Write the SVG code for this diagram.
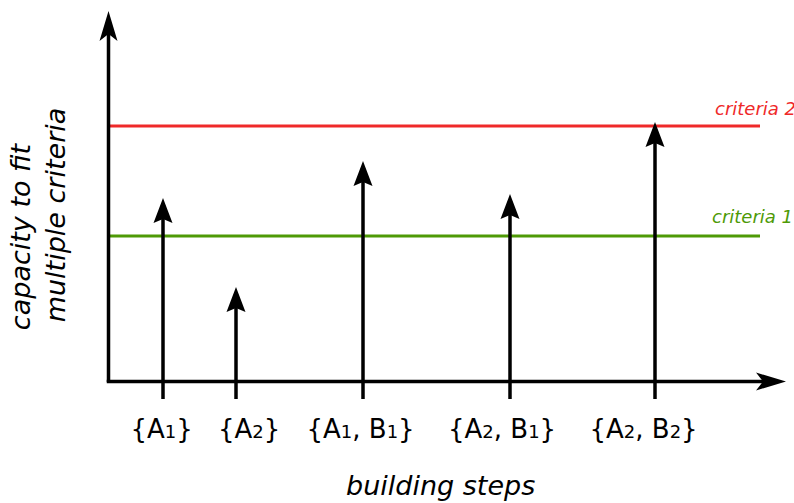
<svg xmlns="http://www.w3.org/2000/svg" width="794" height="503" viewBox="0 0 794 503">
<style>
.axis{stroke:#000;stroke-width:3.5;fill:none;marker-end:url(#ah2)}
.bar{stroke:#000;stroke-width:3.5;fill:none;marker-end:url(#ah)}
.c1{stroke:#4e9a06;stroke-width:3}
.c2{stroke:#ef2929;stroke-width:3}
text{font-family:"DejaVu Sans","Liberation Sans",sans-serif}
.lab{font-size:26px;fill:#000}
.sub{font-size:18px}
.it{font-style:italic}
.ttl{font-size:27px;font-style:italic;fill:#000}
</style>
<defs>
<marker id="ah" markerUnits="userSpaceOnUse" orient="auto" overflow="visible" refX="0" refY="0" markerWidth="30" markerHeight="20">
<path d="M21,0 L-4,-9.5 L0,0 L-4,9.5 Z" fill="#000"/>
</marker>
<marker id="ah2" markerUnits="userSpaceOnUse" orient="auto" overflow="visible" refX="0" refY="0" markerWidth="30" markerHeight="20">
<path d="M23,0 L-7,-9 L0,0 L-7,9 Z" fill="#000"/>
</marker>
</defs>
<g id="criteria">
<line class="c2" x1="108" y1="126" x2="760" y2="126"/>
<line class="c1" x1="108" y1="236" x2="760" y2="236"/>
<text x="715" y="115" class="it" style="font-size:18px;fill:#ef2929">criteria 2</text>
<text x="712" y="223" class="it" style="font-size:18px;fill:#4e9a06">criteria 1</text>
</g>
<g id="connectors">
<path class="axis" d="M108.5,382 L108.5,34"/>
<path class="axis" d="M106.75,381.5 L763,381.5"/>
<line class="bar" x1="163" y1="399" x2="163" y2="219"/>
<line class="bar" x1="236" y1="399" x2="236" y2="308"/>
<line class="bar" x1="363" y1="399" x2="363" y2="182"/>
<line class="bar" x1="510" y1="399" x2="510" y2="215"/>
<line class="bar" x1="655" y1="399" x2="655" y2="143"/>
</g>
<g id="step-a1"><text class="lab" x="130.5" y="437.5">{A<tspan class="sub">1</tspan>}</text></g>
<g id="step-a2"><text class="lab" x="218" y="437.5">{A<tspan class="sub">2</tspan>}</text></g>
<g id="step-a1b1"><text class="lab" x="306.5" y="437.5">{A<tspan class="sub">1</tspan>, B<tspan class="sub">1</tspan>}</text></g>
<g id="step-a2b1"><text class="lab" x="448" y="437.5">{A<tspan class="sub">2</tspan>, B<tspan class="sub">1</tspan>}</text></g>
<g id="step-a2b2"><text class="lab" x="589.5" y="437.5">{A<tspan class="sub">2</tspan>, B<tspan class="sub">2</tspan>}</text></g>
<g id="x-title"><text class="ttl" x="346" y="495">building steps</text></g>
<g id="y-title">
<text class="ttl" transform="rotate(-90)" x="-237" y="30" text-anchor="middle">capacity to fit</text>
<text class="ttl" transform="rotate(-90)" x="-215" y="65" text-anchor="middle">multiple criteria</text>
</g>
</svg>
